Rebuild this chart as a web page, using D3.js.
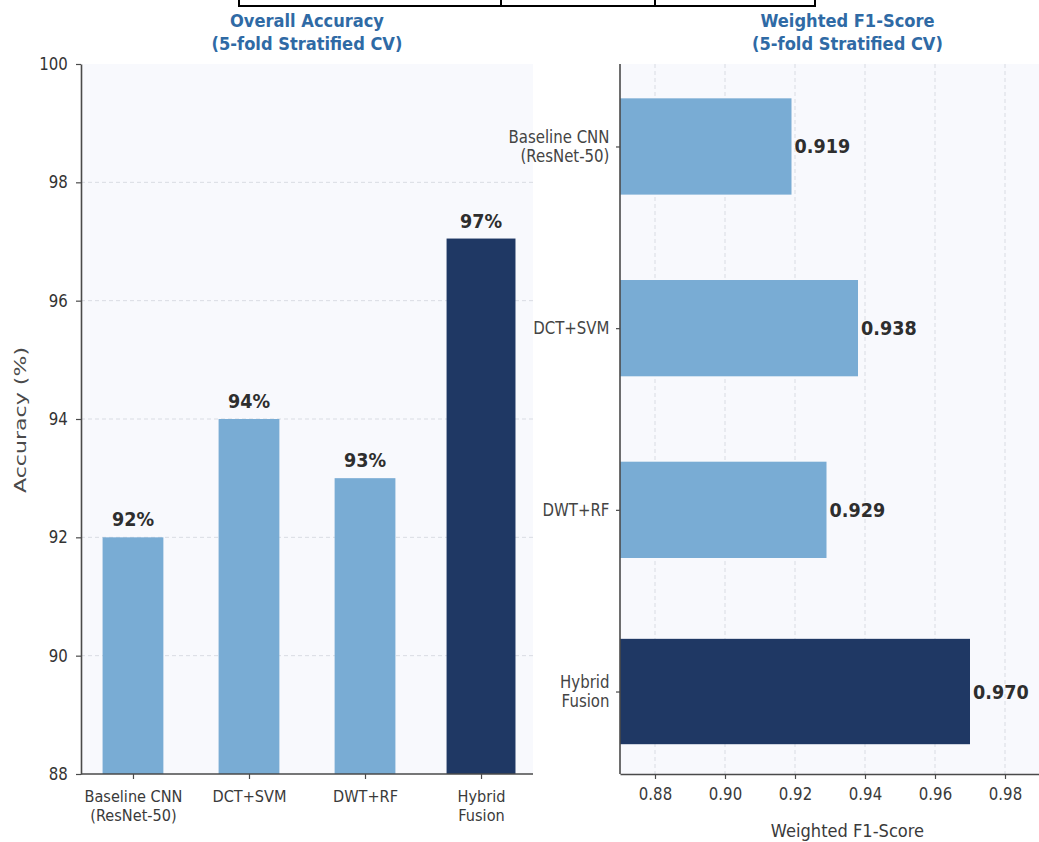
<!DOCTYPE html>
<html><head><meta charset="utf-8">
<script src="https://cdn.jsdelivr.net/npm/d3@7"></script>
<style>
body{margin:0;background:#fff}
svg{display:block}
text{font-family:"DejaVu Sans","Liberation Sans",sans-serif}
</style>
</head><body>
<svg id="c" width="1039" height="842"></svg>
<script>
// ---------------- data ----------------
const categories = ["Baseline CNN\n(ResNet-50)", "DCT+SVM", "DWT+RF", "Hybrid\nFusion"];
const accuracyValues = [92.0, 94.0, 93.0, 97.05];
const f1Values = [0.919, 0.938, 0.929, 0.970];
const accuracyTicks = [88, 90, 92, 94, 96, 98, 100];
const f1Ticks = [0.88, 0.90, 0.92, 0.94, 0.96, 0.98];
const leftTitle = ["Overall Accuracy", "(5-fold Stratified CV)"];
const rightTitle = ["Weighted F1-Score", "(5-fold Stratified CV)"];
const leftYLabel = "Accuracy (%)";
const rightXLabel = "Weighted F1-Score";

// ---------------- setup ----------------
const svg = d3.select("#c");
const SX = 0.88;               // horizontal text compression seen in the reference
const LIGHT = "#79acd4", DARK = "#1f3864";
const TITLE_C = "#2f6aa5", TXT = "#333", AXIS_C = "#4a4a4a";
const PLOT_BG = "#f8f9fd";

function txt(g, x, y, s, o = {}) {
  const t = g.append("text")
    .attr("transform", `translate(${x},${y}) scale(${o.sx ?? SX},1)${o.rot ? ` rotate(${o.rot})` : ""}`)
    .attr("text-anchor", o.anchor || "middle")
    .attr("font-size", o.size || 16)
    .attr("font-weight", o.bold ? "bold" : "normal")
    .attr("fill", o.fill || TXT)
    .text(s);
  if (o.len) t.attr("textLength", o.len).attr("lengthAdjust", "spacingAndGlyphs");
  return t;
}
function multiline(sel, lh, vcenter) {
  sel.each(function () {
    const t = d3.select(this);
    const lines = String(t.text()).split("\n");
    t.text(null);
    const off = vcenter ? -(lines.length - 1) / 2 * lh : 0;
    lines.forEach((l, i) => {
      t.append("tspan").attr("x", t.attr("x") || 0).attr("dy", i === 0 ? null : lh).text(l);
    });
    if (vcenter) t.attr("y", off);
  });
}

// ---------------- table fragment at top ----------------
const tb = svg.append("g");
const tableX = [239, 501, 655, 815];
tb.append("line").attr("x1", tableX[0]).attr("x2", tableX[3]).attr("y1", 6).attr("y2", 6)
  .attr("stroke", "#000").attr("stroke-width", 2);
tableX.forEach(x => tb.append("line").attr("x1", x).attr("x2", x).attr("y1", -2).attr("y2", 7)
  .attr("stroke", "#000").attr("stroke-width", 2));

// ---------------- LEFT: vertical bars ----------------
const L = { x0: 81, x1: 533, y0: 64, y1: 774 };
const xL = d3.scalePoint().domain(categories).range([L.x0, L.x1]).padding(0.448);
const yL = d3.scaleLinear().domain([88, 100]).range([L.y1, L.y0]);
const gl = svg.append("g");
gl.append("rect").attr("x", L.x0).attr("y", L.y0).attr("width", L.x1 - L.x0).attr("height", L.y1 - L.y0)
  .attr("fill", PLOT_BG);
gl.selectAll(".grid").data(accuracyTicks.filter(t => t > 88 && t < 100)).join("line")
  .attr("x1", L.x0).attr("x2", L.x1).attr("y1", d => yL(d)).attr("y2", d => yL(d))
  .attr("stroke", "#d9dce3").attr("stroke-width", 1).attr("stroke-dasharray", "4,3");

const maxAcc = d3.max(accuracyValues);
const step = xL.step();
gl.selectAll(".bar").data(categories).join("rect")
  .attr("fill", (d, i) => accuracyValues[i] === maxAcc ? DARK : LIGHT)
  .attr("x", (d, i) => xL(d) - step * (accuracyValues[i] === maxAcc ? 0.297 : 0.262))
  .attr("width", (d, i) => step * (accuracyValues[i] === maxAcc ? 0.594 : 0.524))
  .attr("y", (d, i) => yL(accuracyValues[i]))
  .attr("height", (d, i) => yL(88) - yL(accuracyValues[i]));
categories.forEach((c, i) => {
  txt(gl, xL(c), yL(accuracyValues[i]) - 11, Math.round(accuracyValues[i]) + "%", { bold: true, size: 20, fill: "#2e2e2e" });
});

function styleAxis(g) {
  g.select(".domain").attr("stroke", AXIS_C).attr("stroke-width", 1.6);
  g.selectAll(".tick line").attr("stroke", AXIS_C).attr("stroke-width", 1.2);
  g.selectAll("text").attr("font-size", 17).attr("fill", TXT)
    .attr("font-family", '"DejaVu Sans",sans-serif');
}
const axL = gl.append("g").attr("transform", `translate(${L.x0},0)`)
  .call(d3.axisLeft(yL).tickValues(accuracyTicks).tickSize(5).tickSizeOuter(0).tickPadding(10).tickFormat(d3.format("d")));
styleAxis(axL);
axL.selectAll("text").attr("transform", `scale(${SX},1)`);

const axLB = gl.append("g").attr("transform", `translate(0,${L.y1})`)
  .call(d3.axisBottom(xL).tickSize(5).tickSizeOuter(0).tickPadding(11));
styleAxis(axLB);
axLB.select(".domain").attr("d", `M${L.x0},0H${L.x1}`);
axLB.selectAll("text").attr("font-size", 16.5).attr("fill", "#3a3a3a").attr("transform", `scale(${SX},1)`);
multiline(axLB.selectAll("text"), 19, false);

txt(gl, 20, (L.y0 + L.y1) / 2 + 1, leftYLabel, { sx: 1, rot: -90, size: 17, fill: "#4a4a4a", len: 146 })
  .attr("transform", `translate(26,${(L.y0 + L.y1) / 2 + 1}) scale(${SX},1) rotate(-90)`);

txt(gl, (L.x0 + L.x1) / 2, 27, leftTitle[0], { bold: true, size: 18.5, fill: TITLE_C });
txt(gl, (L.x0 + L.x1) / 2, 50, leftTitle[1], { bold: true, size: 18.5, fill: TITLE_C });

// ---------------- RIGHT: horizontal bars ----------------
const R = { x0: 620, x1: 1075, y0: 64, y1: 774 };
const yR = d3.scalePoint().domain(categories).range([R.y0, R.y1]).padding(0.454);
const xR = d3.scaleLinear().domain([0.87, 1.0]).range([R.x0, R.x1]);
const gr = svg.append("g");
gr.append("rect").attr("x", R.x0).attr("y", R.y0).attr("width", R.x1 - R.x0).attr("height", R.y1 - R.y0)
  .attr("fill", PLOT_BG);
gr.selectAll(".grid").data(f1Ticks).join("line")
  .attr("x1", d => xR(d)).attr("x2", d => xR(d)).attr("y1", R.y0).attr("y2", R.y1)
  .attr("stroke", "#d9dce3").attr("stroke-width", 1).attr("stroke-dasharray", "4,3");

const maxF1 = d3.max(f1Values);
const stepR = yR.step();
gr.selectAll(".bar").data(categories).join("rect")
  .attr("fill", (d, i) => f1Values[i] === maxF1 ? DARK : LIGHT)
  .attr("y", (d, i) => yR(d) - stepR * (f1Values[i] === maxF1 ? 0.29 : 0.265))
  .attr("height", (d, i) => stepR * (f1Values[i] === maxF1 ? 0.58 : 0.53))
  .attr("x", R.x0)
  .attr("width", (d, i) => xR(f1Values[i]) - R.x0);
categories.forEach((c, i) => {
  txt(gr, xR(f1Values[i]) + 3, yR(c) + 7, d3.format(".3f")(f1Values[i]), { anchor: "start", bold: true, size: 20, fill: "#2e2e2e" });
});

const axR = gr.append("g").attr("transform", `translate(${R.x0},0)`)
  .call(d3.axisLeft(yR).tickSize(4).tickSizeOuter(0).tickPadding(8));
styleAxis(axR);
axR.select(".domain").attr("d", `M0,${R.y0}V${R.y1}`);
axR.selectAll("text").attr("font-size", 17).attr("fill", "#444").attr("transform", `scale(${SX},1)`);
multiline(axR.selectAll("text"), 19, true);

const axRB = gr.append("g").attr("transform", `translate(0,${R.y1})`)
  .call(d3.axisBottom(xR).tickValues(f1Ticks).tickSize(5).tickSizeOuter(0).tickPadding(9).tickFormat(d3.format(".2f")));
styleAxis(axRB);
axRB.selectAll("text").attr("transform", `scale(${SX},1)`).attr("fill", "#3a3a3a");
txt(gr, (R.x0 + R.x1) / 2, 837, rightXLabel, { size: 18.5, fill: "#3a3a3a" });

txt(gr, (R.x0 + R.x1) / 2, 27, rightTitle[0], { bold: true, size: 18.5, fill: TITLE_C });
txt(gr, (R.x0 + R.x1) / 2, 50, rightTitle[1], { bold: true, size: 18.5, fill: TITLE_C });
</script>
</body></html>
